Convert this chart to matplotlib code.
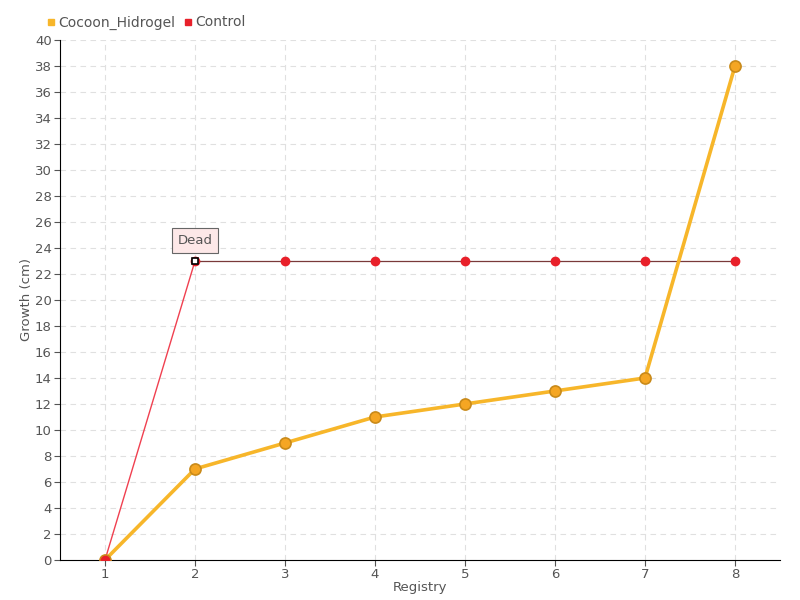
import matplotlib
matplotlib.use("Agg")
import matplotlib.pyplot as plt
from matplotlib.lines import Line2D

registry = [1, 2, 3, 4, 5, 6, 7, 8]
cocoon = [0, 7, 9, 11, 12, 13, 14, 38]
control = [0, 23, 23, 23, 23, 23, 23, 23]

txt = "#555555"

fig = plt.figure(figsize=(8, 6), dpi=100)
ax = fig.add_axes([0.075, 0.0667, 0.9, 0.8667])

ax.plot(registry, cocoon, color="#f7b62a", lw=2.6, zorder=3)
ax.plot(registry, cocoon, "o", ms=8, mfc="#f5a623", mec="#c98a1a", mew=1.2, zorder=4)

ax.plot(registry[:2], control[:2], color="#f04050", lw=1, zorder=2)
ax.plot(registry[1:], control[1:], color="#7a3a3a", lw=0.9, zorder=2)
ax.plot(registry, control, "o", ms=6, mfc="#e8202a", mec="#e8202a", zorder=5)
ax.plot(registry[1], control[1], "s", ms=4, mfc="white", mec="black", mew=1.2, zorder=6)

ax.annotate("Dead", (registry[1], control[1]), xytext=(0, 15), textcoords="offset points",
            ha="center", va="center", fontsize=9.5, color=txt,
            bbox=dict(boxstyle="square,pad=0.45", fc="#fde8e8", ec="#666666", lw=0.8))

ax.set_xlim(0.5, 8.5)
ax.set_ylim(0, 40)
ax.set_xticks(registry)
ax.set_yticks(range(0, 41, 2))
ax.tick_params(colors=txt, labelsize=9.5, length=4, pad=2)
ax.grid(True, ls=(0, (5, 4)), color="#e0e0e0", lw=0.8)
ax.set_axisbelow(True)
for s in ["top", "right"]:
    ax.spines[s].set_visible(False)
ax.spines["left"].set_color("black")
ax.spines["bottom"].set_color("black")

ax.set_xlabel("Registry", color=txt, fontsize=9.5, labelpad=0)
ax.set_ylabel("Growth (cm)", color=txt, fontsize=9.5, labelpad=1)

handles = [Line2D([], [], ls="", marker="s", ms=5, color="#f7b62a"),
           Line2D([], [], ls="", marker="s", ms=5, color="#e8202a")]
fig.legend(handles, ["Cocoon_Hidrogel", "Control"], loc="upper left",
           bbox_to_anchor=(0.04, 0.995), ncol=2, frameon=False, fontsize=10,
           handletextpad=0.0, columnspacing=0.4, handlelength=1.0, labelcolor=txt)

fig.savefig("out.png")
